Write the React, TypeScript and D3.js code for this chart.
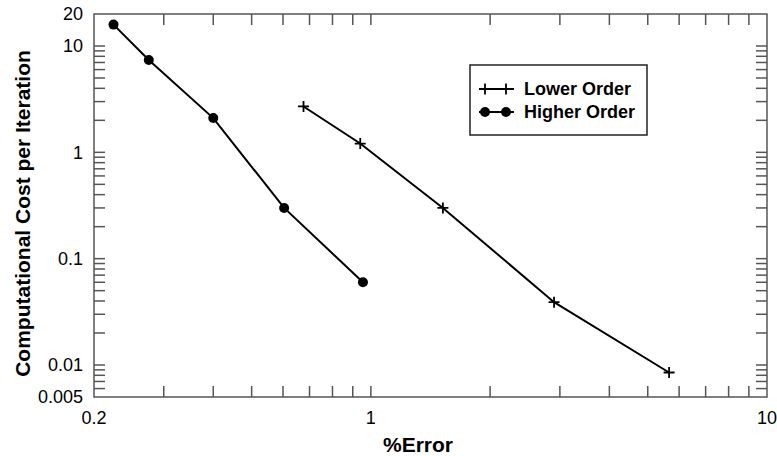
import React, { useEffect, useRef } from 'react';
import * as d3 from 'd3';

const lowerX = [0.676, 0.94, 1.52, 2.9, 5.66];
const lowerY = [2.7, 1.21, 0.3, 0.039, 0.0085];
const higherX = [0.224, 0.275, 0.4, 0.604, 0.955];
const higherY = [15.9, 7.4, 2.1, 0.3, 0.06];
const xTickLabels = [0.2, 1, 10];
const yTickLabels = [0.005, 0.01, 0.1, 1, 10, 20];
const seriesNames = ['Lower Order', 'Higher Order'];

const App = () => {
  const svgRef = useRef<SVGSVGElement>(null);

  useEffect(() => {
    const width = 777;
    const height = 456;
    const m = { left: 94, right: 10, top: 14, bottom: 59 };
    const font = 'Liberation Sans, Arial, sans-serif';

    const svg = d3.select(svgRef.current)
      .attr('width', width)
      .attr('height', height);
    svg.selectAll('*').remove();

    const x = d3.scaleLog().domain([0.2, 10]).range([m.left, width - m.right]);
    const y = d3.scaleLog().domain([0.005, 20]).range([height - m.bottom, m.top]);
    const [x0, x1] = x.range();
    const [y0, y1] = y.range();

    const axisColor = '#555';
    const tickLen = 11;

    // x ticks: 0.3..0.9, 1, 2..9 (inward, top and bottom)
    const xTicks = x.ticks().filter(t => t > 0.2 && t < 10);
    xTicks.forEach(t => {
      const px = x(t);
      svg.append('line').attr('x1', px).attr('x2', px).attr('y1', y0).attr('y2', y0 - tickLen)
        .attr('stroke', axisColor).attr('stroke-width', 1.5);
      svg.append('line').attr('x1', px).attr('x2', px).attr('y1', y1).attr('y2', y1 + tickLen)
        .attr('stroke', axisColor).attr('stroke-width', 1.5);
    });

    const yTicks = y.ticks().filter(t => t > 0.005 && t < 20);
    yTicks.forEach(t => {
      const py = y(t);
      svg.append('line').attr('x1', x0).attr('x2', x0 + tickLen).attr('y1', py).attr('y2', py)
        .attr('stroke', axisColor).attr('stroke-width', 1.5);
      svg.append('line').attr('x1', x1).attr('x2', x1 - tickLen).attr('y1', py).attr('y2', py)
        .attr('stroke', axisColor).attr('stroke-width', 1.5);
    });

    svg.append('rect')
      .attr('x', x0).attr('y', y1).attr('width', x1 - x0).attr('height', y0 - y1)
      .attr('fill', 'none').attr('stroke', axisColor).attr('stroke-width', 1.5);

    svg.selectAll('.xl').data(xTickLabels).enter().append('text')
      .attr('x', d => x(d)).attr('y', y0 + 27)
      .attr('text-anchor', 'middle').attr('font-family', font).attr('font-size', 18)
      .text(d => String(d));

    svg.selectAll('.yl').data(yTickLabels).enter().append('text')
      .attr('x', x0 - 11).attr('y', d => y(d)).attr('dy', '0.35em')
      .attr('text-anchor', 'end').attr('font-family', font).attr('font-size', 18)
      .text(d => String(d));

    svg.append('text').attr('x', 418).attr('y', 452)
      .attr('text-anchor', 'middle').attr('font-family', font).attr('font-size', 21)
      .attr('font-weight', 'bold').text('%Error');

    svg.append('text')
      .attr('transform', `translate(30,${(y0 + y1) / 2 + 8}) rotate(-90)`)
      .attr('text-anchor', 'middle').attr('font-family', font).attr('font-size', 21)
      .attr('font-weight', 'bold').text('Computational Cost per Iteration');

    const line = d3.line<[number, number]>().x(d => x(d[0])).y(d => y(d[1]));
    const lower: [number, number][] = lowerX.map((v, i) => [v, lowerY[i]]);
    const higher: [number, number][] = higherX.map((v, i) => [v, higherY[i]]);

    svg.append('path').attr('d', line(lower)).attr('fill', 'none')
      .attr('stroke', '#000').attr('stroke-width', 2);
    svg.append('path').attr('d', line(higher)).attr('fill', 'none')
      .attr('stroke', '#000').attr('stroke-width', 2);

    const plus = (g: any, cx: number, cy: number) => {
      g.append('path').attr('d', `M${cx - 5.5},${cy}H${cx + 5.5}M${cx},${cy - 5.5}V${cy + 5.5}`)
        .attr('stroke', '#000').attr('stroke-width', 1.8);
    };

    lower.forEach(d => plus(svg, x(d[0]), y(d[1])));
    svg.selectAll('.dot').data(higher).enter().append('circle')
      .attr('cx', d => x(d[0])).attr('cy', d => y(d[1])).attr('r', 5).attr('fill', '#000');

    // legend
    const lg = svg.append('g');
    lg.append('rect').attr('x', 470).attr('y', 65).attr('width', 177).attr('height', 70)
      .attr('fill', '#fff').attr('stroke', '#222').attr('stroke-width', 1.5);
    const rows = [89, 112];
    seriesNames.forEach((name, i) => {
      const ly = rows[i];
      lg.append('line').attr('x1', 479).attr('x2', 514).attr('y1', ly).attr('y2', ly)
        .attr('stroke', '#000').attr('stroke-width', 2);
      [485, 506].forEach(px => {
        if (i === 0) plus(lg, px, ly);
        else lg.append('circle').attr('cx', px).attr('cy', ly).attr('r', 5).attr('fill', '#000');
      });
      lg.append('text').attr('x', 524).attr('y', ly).attr('dy', '0.35em')
        .attr('font-family', font).attr('font-size', 18).attr('font-weight', 'bold')
        .text(name);
    });
  }, []);

  return (
    <svg ref={svgRef} style={{ position: 'absolute', left: 0, top: 0 }}></svg>
  );
};

export default App;
